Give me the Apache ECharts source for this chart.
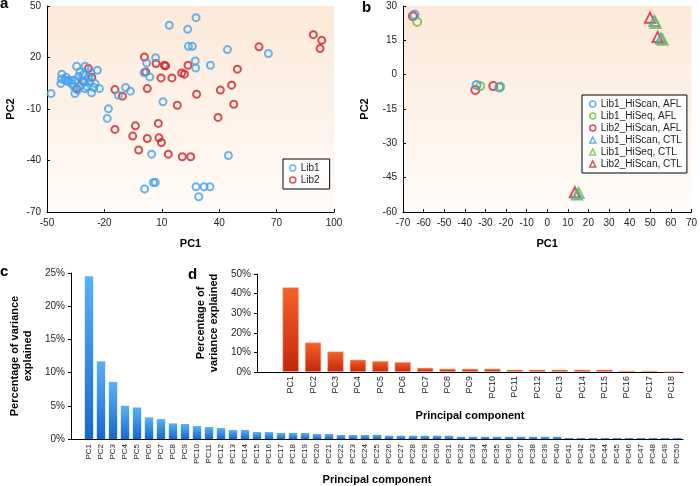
<!DOCTYPE html>
<html><head><meta charset="utf-8">
<script src="https://cdn.jsdelivr.net/npm/echarts@6/dist/echarts.min.js"></script>
<style>html,body{margin:0;padding:0;background:#fff}#chart{width:700px;height:486px}</style>
</head><body><div id="chart"></div>
<script>
// ---------- Panel a data ----------
const lib1Points = [
  [-47.9,-1.0],
  [-42.3,10.3],[-42.5,7.5],[-42.8,4.8],[-40.6,6.8],[-38.9,6.8],[-37.1,6.8],[-35.4,6.8],[-34.5,14.9],[-30.1,14.9],
  [-32.8,11.6],[-31.9,6.8],[-30.1,5.8],[-28.4,8.7],[-27.5,5.8],[-24.9,4.8],[-23.7,12.6],[-22.6,1.9],[-26.7,-0.6],
  [-35.4,-1.0],[-30.1,1.9],[-32.8,3.3],[-37.1,4.8],[-38.9,5.8],[-33.5,9.0],[-29.0,3.0],[-36.0,3.0],[-27.0,11.0],
  [-40.0,8.5],[-34.0,1.0],[-25.5,2.5],[-31.0,10.0],
  [-8.9,2.5],[-6.4,0.4],[-12.7,-2.0],[-17.9,-9.9],[-18.5,-15.5],
  [0.7,11.2],[2.1,16.8],[3.7,8.7],[6.8,19.9],[10.6,-5.8],
  [13.9,38.8],[27.9,43.2],[23.5,36.4],[23.9,26.5],[26.0,26.5],[44.3,24.6],[65.7,22.3],
  [27.5,18.0],[27.7,13.9],[35.4,15.5],
  [4.7,-36.3],[44.8,-37.1],
  [1.0,-56.6],[5.6,-52.8],[6.6,-52.8],[27.9,-55.3],[32.1,-55.3],[35.2,-55.3],[29.3,-61.1]
];
const lib2Points = [
  [89.2,33.3],[93.6,30.0],[92.7,25.2],[60.8,26.2],[49.5,13.2],[46.5,3.9],[40.6,1.0],[47.6,-7.2],[39.4,-14.9],
  [28.2,-1.4],[23.7,15.5],[20.4,11.0],[21.8,10.3],[18.1,-7.8],
  [0.9,20.3],[1.6,11.6],[7.0,16.5],[11.3,15.5],[12.0,15.1],[9.6,8.1],[15.3,8.1],[2.4,1.9],
  [-14.5,1.3],[-10.6,-2.5],[-14.5,-21.9],[-3.8,-19.8],[8.2,-18.4],[-5.2,-25.8],[2.4,-27.2],[8.5,-26.8],
  [9.8,-29.5],[-2.1,-33.9],[13.4,-36.3],[20.7,-37.8],[25.1,-37.8],
  [-28.4,13.6],[-26.6,8.5],[-34.5,1.9],[-31.0,6.0]
];
// ---------- Panel b data ----------
const bLib1HiScanAFL = [[-64.4,26.2],[-34.3,-4.5],[-23.3,-5.6]];
const bLib1HiSeqAFL  = [[-63.1,23.0],[-32.5,-5.0],[-22.8,-5.3]];
const bLib2HiScanAFL = [[-65.2,25.5],[-34.9,-6.7],[-26.2,-5.0]];
const bLib1HiScanCTL = [[52.0,23.5],[55.2,15.8],[14.5,-52.4]];
const bLib1HiSeqCTL  = [[52.6,22.6],[56.0,15.3],[15.3,-51.7]];
const bLib2HiScanCTL = [[49.9,24.9],[53.6,16.5],[13.4,-51.4]];
// ---------- Panel c data ----------
const cCategories = ['PC1','PC2','PC3','PC4','PC5','PC6','PC7','PC8','PC9','PC10',
  'PC11','PC12','PC13','PC14','PC15','PC16','PC17','PC18','PC19','PC20',
  'PC21','PC22','PC23','PC24','PC25','PC26','PC27','PC28','PC29','PC30',
  'PC31','PC32','PC33','PC34','PC35','PC36','PC37','PC38','PC39','PC40',
  'PC41','PC42','PC43','PC44','PC45','PC46','PC47','PC48','PC49','PC50'];
const cValues = [24.5,11.7,8.6,5.0,4.75,3.25,3.0,2.35,2.25,1.95,
  1.8,1.65,1.35,1.35,1.05,1.05,0.9,0.9,0.9,0.75,
  0.75,0.6,0.6,0.6,0.65,0.5,0.5,0.5,0.5,0.5,
  0.5,0.35,0.35,0.35,0.35,0.35,0.35,0.35,0.35,0.35,
  0.15,0.15,0.15,0.15,0.15,0.15,0.15,0.15,0.15,0.15];
// ---------- Panel d data ----------
const dCategories = ['PC1','PC2','PC3','PC4','PC5','PC6','PC7','PC8','PC9','PC10',
  'PC11','PC12','PC13','PC14','PC15','PC16','PC17','PC18'];
const dValues = [43.2,15.1,10.5,6.3,5.6,5.1,2.2,1.7,1.7,1.7,1.2,1.2,1.2,1.2,1.2,0.6,0.6,0.1];

const FONT = '"Liberation Sans", Arial, Helvetica, sans-serif';
const BLUE = '#44a2ee', RED = '#cc2129';
const BBLUE = '#3f9ae6', BGREEN = '#6cc02c', BRED = '#d8232a';
const G = echarts.graphic;
const bg = () => new G.LinearGradient(0,0,0,1,[{offset:0,color:'#fce9d8'},{offset:1,color:'#fffbf8'}]);

const chart = echarts.init(document.getElementById('chart'), null, {renderer:'canvas'});

const nameStyle = {fontWeight:'bold', fontSize:11, color:'#000', fontFamily:FONT};
const lblStyle = (fs) => ({fontSize:fs, color:'#222', fontFamily:FONT});
const axLine = {show:true, onZero:false, lineStyle:{color:'#000', width:1}};

function valAxis(grid, min, max, interval, name, gap, extra) {
  return Object.assign({
    gridIndex:grid, type:'value', min, max, interval,
    axisLine:axLine,
    axisTick:{show:true, inside:true, length:3, lineStyle:{color:'#000'}},
    axisLabel:Object.assign({margin:6}, lblStyle(10)),
    splitLine:{show:false},
    name, nameLocation:'middle', nameGap:gap, nameTextStyle:nameStyle
  }, extra || {});
}

function scatter(name, data, xi, color, symbol, size, z) {
  return {
    type:'scatter', name, data, xAxisIndex:xi, yAxisIndex:xi, symbol, symbolSize:size, z,
    itemStyle:{color:'rgba(0,0,0,0)', borderColor:color, borderWidth:2}, silent:true
  };
}
const legIcon = (name, icon, color) => ({name, icon, itemStyle:{color:'rgba(0,0,0,0)', borderColor:color, borderWidth:1.5}});

const option = {
  animation:false,
  backgroundColor:'#fff',
  textStyle:{fontFamily:FONT},
  title:[
    {text:'a', left:0, top:-4, padding:0, textStyle:{fontSize:15, fontWeight:'bold', color:'#000', fontFamily:FONT}},
    {text:'b', left:362, top:0, padding:0, textStyle:{fontSize:15, fontWeight:'bold', color:'#000', fontFamily:FONT}},
    {text:'c', left:0, top:264, padding:0, textStyle:{fontSize:15, fontWeight:'bold', color:'#000', fontFamily:FONT}},
    {text:'d', left:188, top:267, padding:0, textStyle:{fontSize:15, fontWeight:'bold', color:'#000', fontFamily:FONT}}
  ],
  grid:[
    {left:47, top:6, width:287, height:206, show:true, borderWidth:0, backgroundColor:bg()},
    {left:403, top:6, width:290, height:206, show:true, borderWidth:0, backgroundColor:bg()},
    {left:60, top:273, width:623, height:166},
    {left:257, top:274, width:426, height:98}
  ],
  xAxis:[
    valAxis(0, -50, 100, 30, 'PC1', 26),
    valAxis(1, -70, 70, 10, 'PC1', 26),
    {gridIndex:2, type:'category', data:[''].concat(cCategories),
     axisLine:axLine, axisTick:{show:false},
     axisLabel:Object.assign({rotate:90, interval:0, margin:5}, lblStyle(8)),
     name:'Principal component', nameLocation:'middle', nameGap:35, nameTextStyle:nameStyle},
    {gridIndex:3, type:'category', data:[''].concat(dCategories),
     axisLine:axLine, axisTick:{show:false},
     axisLabel:Object.assign({rotate:90, interval:0, margin:4}, lblStyle(9)),
     name:'Principal component', nameLocation:'middle', nameGap:38, nameTextStyle:nameStyle}
  ],
  yAxis:[
    valAxis(0, -70, 50, 30, 'PC2', 31),
    valAxis(1, -60, 30, 15, 'PC2', 33),
    valAxis(2, 0, 25, 5, 'Percentage of variance\nexplained', 37, {
      axisTick:{show:true, inside:false, length:3, lineStyle:{color:'#000'}},
      axisLabel:Object.assign({margin:6, formatter:'{value}%'}, lblStyle(10)),
      nameTextStyle:Object.assign({lineHeight:13}, nameStyle)
    }),
    valAxis(3, 0, 50, 10, 'Percentage of\nvariance explained', 37, {
      axisTick:{show:true, inside:false, length:3, lineStyle:{color:'#000'}},
      axisLabel:Object.assign({margin:6, formatter:'{value}%'}, lblStyle(10)),
      nameTextStyle:Object.assign({lineHeight:13}, nameStyle)
    })
  ],
  legend:[
    {left:283, top:159, orient:'vertical', padding:[4,10,4,6], itemWidth:6, itemHeight:6, itemGap:2,
     borderColor:'#000', borderWidth:1, backgroundColor:'#fff', selectedMode:false,
     textStyle:lblStyle(10),
     data:[legIcon('Lib1','circle',BLUE), legIcon('Lib2','circle',RED)]},
    {left:582, top:95, orient:'vertical', padding:[4,5,4,7], itemWidth:6, itemHeight:6, itemGap:2,
     borderColor:'#000', borderWidth:1, backgroundColor:'#fff', selectedMode:false,
     textStyle:lblStyle(10),
     data:[legIcon('Lib1_HiScan, AFL','circle',BBLUE), legIcon('Lib1_HiSeq, AFL','circle',BGREEN),
           legIcon('Lib2_HiScan, AFL','circle',BRED), legIcon('Lib1_HiScan, CTL','triangle',BBLUE),
           legIcon('Lib1_HiSeq, CTL','triangle',BGREEN), legIcon('Lib2_HiScan, CTL','triangle',BRED)]}
  ],
  series:[
    scatter('Lib2', lib2Points, 0, RED, 'circle', 7, 2),
    scatter('Lib1', lib1Points, 0, BLUE, 'circle', 7, 3),
    scatter('Lib2_HiScan, AFL', bLib2HiScanAFL, 1, BRED, 'circle', 8, 2),
    scatter('Lib1_HiSeq, AFL', bLib1HiSeqAFL, 1, BGREEN, 'circle', 8, 3),
    scatter('Lib1_HiScan, AFL', bLib1HiScanAFL, 1, BBLUE, 'circle', 8, 4),
    scatter('Lib2_HiScan, CTL', bLib2HiScanCTL, 1, BRED, 'triangle', 10, 2),
    scatter('Lib1_HiScan, CTL', bLib1HiScanCTL, 1, BBLUE, 'triangle', 10, 3),
    scatter('Lib1_HiSeq, CTL', bLib1HiSeqCTL, 1, BGREEN, 'triangle', 10, 4),
    {type:'bar', name:'cbars', xAxisIndex:2, yAxisIndex:2, data:[null].concat(cValues), barCategoryGap:'30%', silent:true,
     itemStyle:{color:new G.LinearGradient(0,0,0,1,[{offset:0,color:'#5cb1f5'},{offset:1,color:'#1568cc'}])}},
    {type:'bar', name:'dbars', xAxisIndex:3, yAxisIndex:3, data:[null].concat(dValues), barCategoryGap:'27%', silent:true,
     itemStyle:{color:new G.LinearGradient(0,0,0,1,[{offset:0,color:'#f6622a'},{offset:1,color:'#c2260c'}]),
                borderColor:'rgba(250,160,130,0.7)', borderWidth:0.8}}
  ]
};
chart.setOption(option);
</script>
</body></html>
